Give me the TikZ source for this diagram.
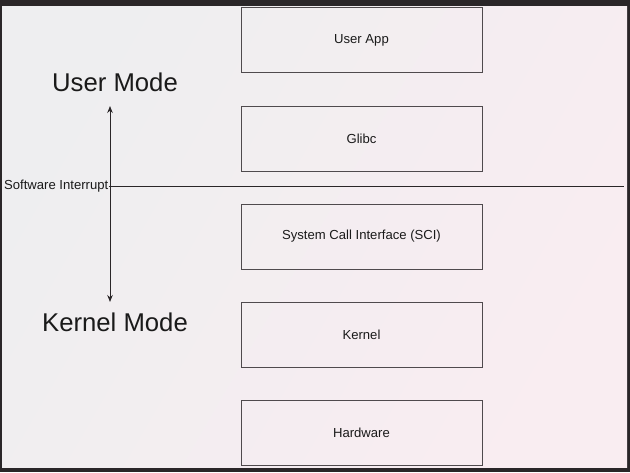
\documentclass[tikz,border=0pt]{standalone}
\usepackage{fontspec}
\setmainfont{Liberation Sans}
\usetikzlibrary{arrows.meta}
\definecolor{framec}{HTML}{2A2628}
\definecolor{bgleft}{HTML}{EEEEF0}
\definecolor{bgright}{HTML}{F9EDF1}
\definecolor{linec}{HTML}{4F4A4D}
\definecolor{textc}{HTML}{1A1A1A}
\tikzset{
  layerbox/.style={draw=linec, line width=0.9pt, minimum width=241pt, minimum height=65pt,
    inner sep=0pt, text=textc, font=\fontsize{13.1}{15}\selectfont},
  modelabel/.style={text=textc, font=\fontsize{25.7}{30}\selectfont, inner sep=0pt},
  smalllabel/.style={text=textc, font=\fontsize{13.1}{15}\selectfont, inner sep=0pt},
  conn/.style={draw=framec, line width=0.9pt}
}
\begin{document}
\begin{tikzpicture}[x=1pt,y=-1pt]
\useasboundingbox (0,0) rectangle (630,472);
\fill[framec] (0,0) rectangle (630,472);
\shade[left color=bgleft, right color=bgright, shading angle=60] (2,6) rectangle (627,467);
% boxes
\node[layerbox] (app) at (361.5,40) {User App};
\node[layerbox] (glibc) at (361.5,138.5) {Glibc};
\node[layerbox] (sci) at (361.5,236.5) {System Call Interface (SCI)};
\node[layerbox] (kernel) at (361.5,335) {Kernel};
\node[layerbox] (hw) at (361.5,433) {Hardware};
% mode labels
\node[modelabel] (user) at (115,82) {User Mode};
\node[modelabel] (kmode) at (115,322) {Kernel Mode};
% software interrupt line
\node[smalllabel, anchor=east] (si) at (108.5,186) {Software Interrupt};
\coordinate (lineEnd) at (624,186);
\draw[conn] (si.east) -- (lineEnd);
% arrow
\coordinate (aTop) at (110,106);
\coordinate (aBot) at (110,302);
\draw[conn, {Stealth[length=7pt,width=5.5pt]}-{Stealth[length=7pt,width=5.5pt]}] (aTop) -- (aBot);
\end{tikzpicture}
\end{document}
